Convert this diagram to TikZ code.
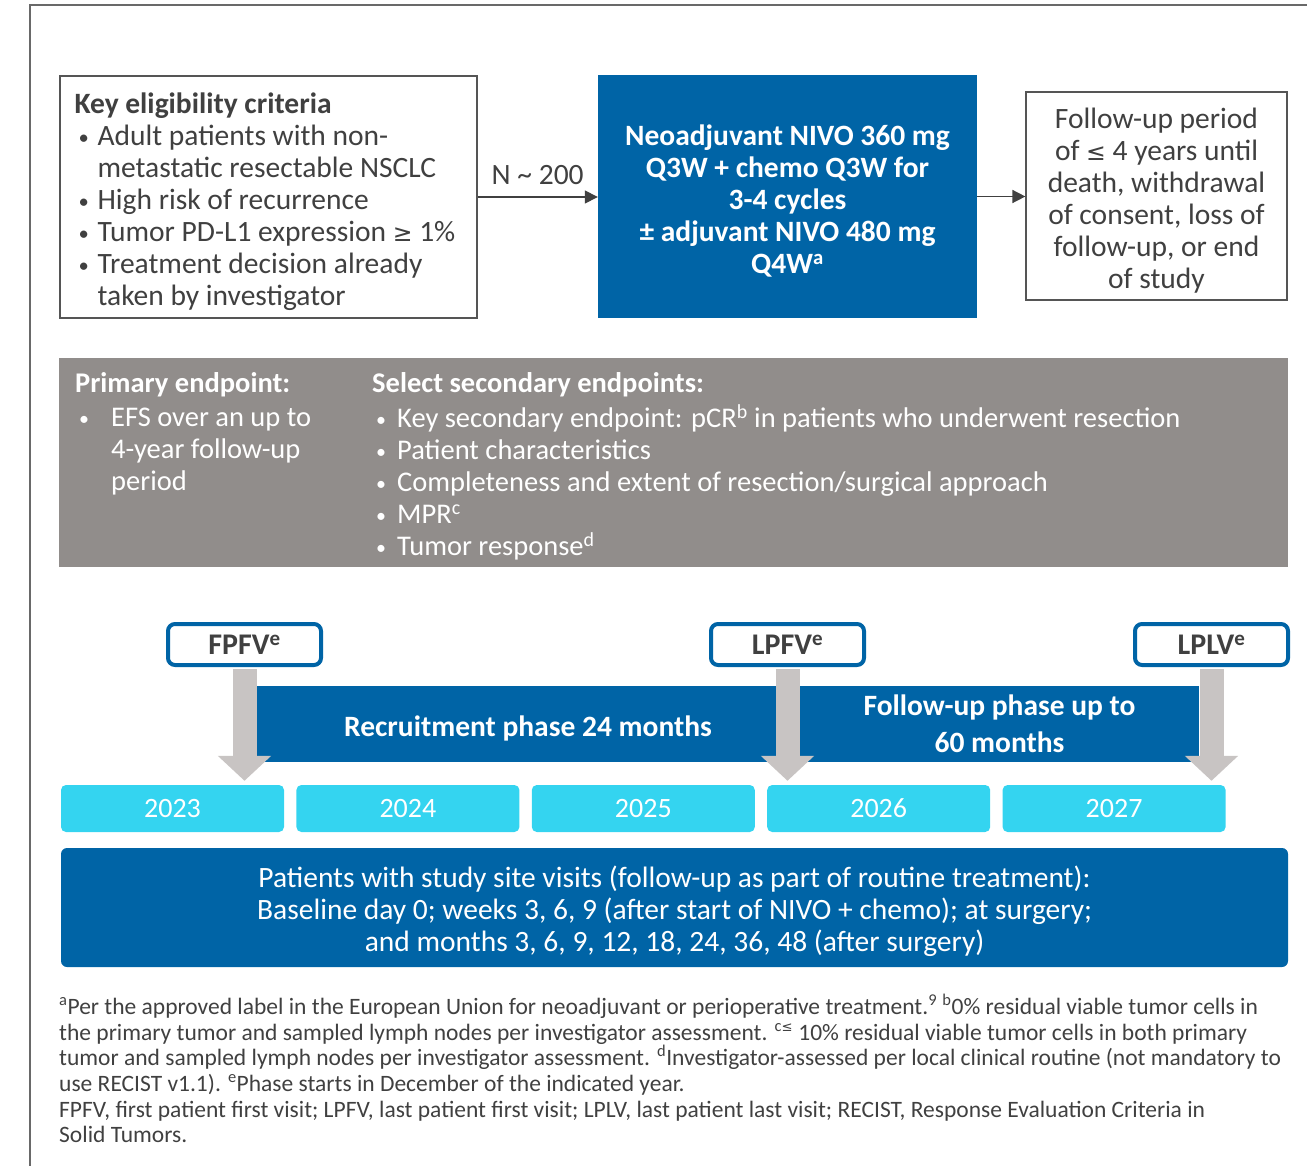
\documentclass[tikz,border=0pt]{standalone}
\usepackage{fontspec}
\setmainfont{Carlito}
\newfontfamily\symfont[Scale=0.8]{DejaVu Sans}
\usetikzlibrary{positioning, arrows.meta}

\definecolor{nblue}{RGB}{0,100,166}
\definecolor{ncyan}{RGB}{52,212,240}
\definecolor{bandgray}{RGB}{145,141,139}
\definecolor{arrgray}{RGB}{200,196,195}
\definecolor{boxgray}{RGB}{85,85,85}
\definecolor{txtgray}{RGB}{64,64,64}
\definecolor{framegray}{RGB}{105,105,105}

\newcommand{\bul}[1][23pt]{\makebox[#1][l]{\hspace{4pt}\raisebox{1pt}{\scalebox{0.7}{\textbullet}}}}
\newcommand{\lte}{{\symfont ≤}}
\newcommand{\gte}{{\symfont ≥}}
\newcommand{\topstrut}{\rule{0pt}{29.5pt}}

\begin{document}
\begin{tikzpicture}[x=1pt, y=-1pt,
    big/.style={font=\fontsize{29.5}{32}\selectfont},
    bigbf/.style={font=\fontsize{29.5}{32}\selectfont\bfseries},
    critbox/.style={draw=boxgray, line width=1.2pt, fill=white,
      minimum width=417pt, minimum height=242pt},
    treatbox/.style={bigbf, fill=nblue, text=white,
      minimum width=379pt, minimum height=243pt, align=center},
    fubox/.style={big, draw=boxgray, line width=1.2pt, fill=white, text=txtgray,
      minimum width=261pt, minimum height=208pt, align=center},
    flow/.style={txtgray, line width=1.5pt, -{Triangle[length=13pt, width=13pt]}},
    band/.style={fill=bandgray, minimum width=1229pt, minimum height=209pt},
    ept/.style={font=\fontsize{28.5}{32}\selectfont, text=white, inner sep=0, anchor=west, align=left},
    marker/.style={font=\fontsize{30}{32}\selectfont\bfseries, text=txtgray, draw=nblue, line width=4pt,
      rounded corners=7pt, fill=white, minimum width=153pt, minimum height=41pt, inner sep=0},
    phase/.style={font=\fontsize{29.5}{37}\selectfont\bfseries, fill=nblue, text=white,
      minimum height=76pt, align=center},
    yearbox/.style={font=\fontsize{28}{32}\selectfont, fill=ncyan, text=white, rounded corners=5pt,
      minimum width=223pt, minimum height=47pt, inner sep=0},
    grayarrow/.style={arrgray, line width=24pt, -{Triangle[length=25pt, width=52pt]}},
    visits/.style={font=\fontsize{29.5}{32}\selectfont, fill=nblue, text=white, rounded corners=6pt,
      minimum width=1227pt, minimum height=119pt, align=center}
  ]
\useasboundingbox (0,0) rectangle (1307,1166);
\draw[framegray, line width=2.5pt] (30,1166) -- (30,5) -- (1307,5);

\node[critbox] (crit) at (268.5,197) {};
\node[big, text=txtgray, anchor=west, inner sep=0, align=left] (crittx) at ([xshift=15pt]crit.west) {\topstrut\textbf{Key eligibility criteria}\\
  \bul Adult patients with non-\\
  \hspace*{23pt}metastatic resectable NSCLC\\
  \bul High risk of recurrence\\
  \bul Tumor PD-L1 expression \gte{} 1\%\\
  \bul Treatment decision already\\
  \hspace*{23pt}taken by investigator};
\node[treatbox] (treat) at (787.5,196.5) {\topstrut Neoadjuvant NIVO 360 mg\\Q3W + chemo Q3W for\\3-4 cycles\\
  ± adjuvant NIVO 480 mg\\Q4W\textsuperscript{a}};
\node[fubox] (fu) at (1156.5,196) {\topstrut Follow-up period\\of \lte{} 4 years until\\death, withdrawal\\
  of consent, loss of\\follow-up, or end\\of study};
\draw[flow] (crit.east) -- node[big, above, yshift=8pt, text=txtgray] (nlabel) {N \textasciitilde{} 200} (crit.east -| treat.west);
\draw[flow] (treat.east) -- (treat.east -| fu.west);

% endpoints
\node[band] (endpts) at (673.5,462.5) {};
\node[ept, font=\fontsize{28.5}{32}\selectfont\bfseries] (primhd) at (75,385) {Primary endpoint:};
\node[ept] (primtx) at (75,452) {\bul[36pt]EFS over an up to\\ \hspace*{36pt}4-year follow-up\\ \hspace*{36pt}period};
\node[ept, font=\fontsize{28.5}{32}\selectfont\bfseries] (sechd) at (372,385) {Select secondary endpoints:};
\node[ept] (sectx) at (372,482) {\bul[25pt]Key secondary endpoint: pCR\textsuperscript{b} in patients who underwent resection\\
  \bul[25pt]Patient characteristics\\
  \bul[25pt]Completeness and extent of resection/surgical approach\\
  \bul[25pt]MPR\textsuperscript{c}\\
  \bul[25pt]Tumor response\textsuperscript{d}};

% timeline
\node[phase, minimum width=544pt] (recruit) at (528,724) {\topstrut Recruitment phase 24 months};
\node[phase, minimum width=399pt] (fuphase) at (999.5,724) {Follow-up phase up to\\60 months};
\node[yearbox] (y2023) at (172.5,808.5) {2023};
\foreach \yr [remember=\yr as \prev (initially 2023)] in {2024,...,2027}
  \node[yearbox, right=12pt of y\prev] (y\yr) {\yr};
\node[marker] (fpfv) at (244.5,644.5) {FPFV\textsuperscript{e}};
\node[marker] (lpfv) at (787.5,644.5) {LPFV\textsuperscript{e}};
\node[marker] (lplv) at (1211.5,644.5) {LPLV\textsuperscript{e}};
\foreach \m/\yb in {fpfv/y2023, lpfv/y2026, lplv/y2027}
  \draw[grayarrow] ([yshift=-2pt]\m.south) -- ([yshift=4pt]\m.south |- \yb.north);

\node[visits] (visits) at (674.5,907.5) {\topstrut Patients with study site visits (follow-up as part of routine treatment):\\
  Baseline day 0; weeks 3, 6, 9 (after start of NIVO + chemo); at surgery;\\
  and months 3, 6, 9, 12, 18, 24, 36, 48 (after surgery)};

\node[anchor=north west, inner sep=0, align=left, text=txtgray,
  font=\fontsize{23.5}{25.6}\selectfont] (notes) at (59,994) {\textsuperscript{a}Per the approved label in the European Union for neoadjuvant or perioperative treatment.\textsuperscript{9} \textsuperscript{b}0\% residual viable tumor cells in\\
  the primary tumor and sampled lymph nodes per investigator assessment. \textsuperscript{c\lte} 10\% residual viable tumor cells in both primary\\
  tumor and sampled lymph nodes per investigator assessment. \textsuperscript{d}Investigator-assessed per local clinical routine (not mandatory to\\
  use RECIST v1.1). \textsuperscript{e}Phase starts in December of the indicated year.\\
  FPFV, first patient first visit; LPFV, last patient first visit; LPLV, last patient last visit; RECIST, Response Evaluation Criteria in\\
  Solid Tumors.};
\end{tikzpicture}
\end{document}
